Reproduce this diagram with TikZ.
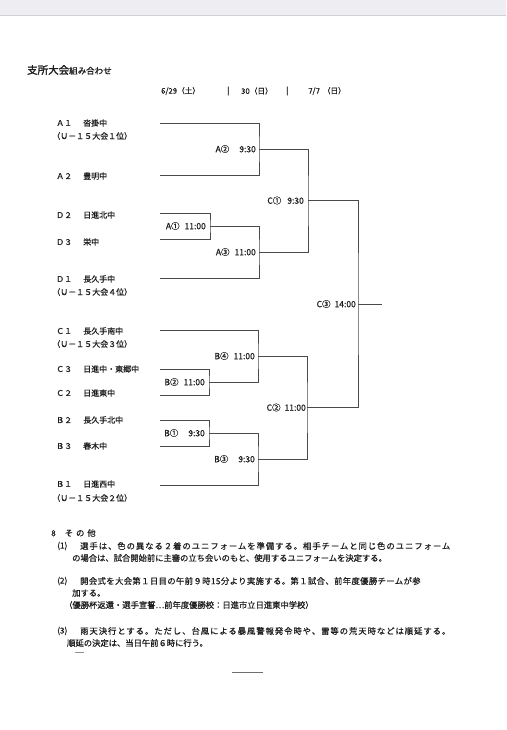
\documentclass[tikz,border=0pt]{standalone}
\usepackage{fontspec}
\newfontfamily\jp{Noto Sans CJK JP}[FakeBold=0.6]
\newfontfamily\jpls{Noto Sans CJK JP}[FakeBold=0.6,LetterSpace=12]
\newfontfamily\jplt{Noto Sans CJK JP}[FakeBold=0.6,LetterSpace=5]
\newfontfamily\jph{Noto Sans CJK JP}[FakeBold=2]
\definecolor{linec}{HTML}{4A4A4A}
\definecolor{txt}{HTML}{1E1E1E}
\definecolor{topbar}{HTML}{EEEEF2}
\begin{document}
\begin{tikzpicture}[x=1pt,y=-1pt,
  br/.style={draw=linec, line width=0.85pt},
  tm/.style={font=\jp\fontsize{8}{8}\selectfont, text=txt, inner sep=0pt, anchor=west},
  ml/.style={font=\jp\fontsize{8.5}{9}\selectfont, text=txt, inner sep=0pt, anchor=east},
  bt/.style={font=\jp\fontsize{8.3}{9}\selectfont, text=txt, inner sep=0pt, anchor=west}]
\useasboundingbox (0,0) rectangle (506,730);
\fill[white] (0,0) rectangle (506,730);
\fill[topbar] (0,0) rectangle (506,15);
\draw[black!18] (0,15) -- (506,15);

% title and header
\node[tm] (title) at (27,70) {{\jph\fontsize{10.5}{11}\selectfont 支所大会}{\fontsize{8.5}{9}\selectfont 組み合わせ}};
\node[tm, font=\jp\fontsize{7.7}{8}\selectfont] (d1) at (161,91) {6/29（土）};
\node[tm, font=\jp\fontsize{7.7}{8}\selectfont] (s1) at (227,91) {|};
\node[tm, font=\jp\fontsize{7.7}{8}\selectfont] (d2) at (241,91) {30（日）};
\node[tm, font=\jp\fontsize{7.7}{8}\selectfont] (s2) at (286,91) {|};
\node[tm, font=\jp\fontsize{7.7}{8}\selectfont] (d3) at (308,91) {7/7\hspace{3pt}（日）};

% team labels
\node[tm] (cA1) at (56,123) {Ａ１}; \node[tm] (nA1) at (83,123) {沓掛中};
\node[tm] (uA1) at (52,136) {（Ｕ－１５大会１位）};
\node[tm] (cA2) at (56,176) {Ａ２}; \node[tm] (nA2) at (83,176) {豊明中};
\node[tm] (cD2) at (56,215) {Ｄ２}; \node[tm] (nD2) at (83,215) {日進北中};
\node[tm] (cD3) at (56,242) {Ｄ３}; \node[tm] (nD3) at (83,242) {栄中};
\node[tm] (cD1) at (56,279) {Ｄ１}; \node[tm] (nD1) at (83,279) {長久手中};
\node[tm] (uD1) at (52,292) {（Ｕ－１５大会４位）};
\node[tm] (cC1) at (56,331) {Ｃ１}; \node[tm] (nC1) at (83,331) {長久手南中};
\node[tm] (uC1) at (52,344) {（Ｕ－１５大会３位）};
\node[tm] (cC3) at (56,369) {Ｃ３}; \node[tm] (nC3) at (83,369) {日進中・東郷中};
\node[tm] (cC2) at (56,393) {Ｃ２}; \node[tm] (nC2) at (83,393) {日進東中};
\node[tm] (cB2) at (56,420) {Ｂ２}; \node[tm] (nB2) at (83,420) {長久手北中};
\node[tm] (cB3) at (56,446) {Ｂ３}; \node[tm] (nB3) at (83,446) {春木中};
\node[tm] (cB1) at (56,484) {Ｂ１}; \node[tm] (nB1) at (83,484) {日進西中};
\node[tm] (uB1) at (52,498) {（Ｕ－１５大会２位）};

% bracket coordinates
\coordinate (sA1) at (160,123);
\coordinate (sA2) at (160,175);
\coordinate (sD2) at (160,213);
\coordinate (sD3) at (160,239);
\coordinate (sD1) at (160,278);
\coordinate (sC1) at (160,330);
\coordinate (sC3) at (160,369);
\coordinate (sC2) at (160,395);
\coordinate (sB2) at (160,420);
\coordinate (sB3) at (160,446);
\coordinate (sB1) at (160,485);

\coordinate (mA1) at (210,226);
\coordinate (mA2) at (259,149);
\coordinate (mA3) at (259,252);
\coordinate (mC1) at (308,200.5);
\coordinate (mB2) at (209,382);
\coordinate (mB4) at (258,356);
\coordinate (mB1) at (209,433);
\coordinate (mB3) at (258,459);
\coordinate (mC2) at (307,407.5);
\coordinate (mC3) at (358,304);
\coordinate (fin) at (382,304);

% bracket lines
\draw[br] (sA1) -| (mA2) |- (sA2);
\draw[br] (sD2) -| (mA1) |- (sD3);
\draw[br] (mA1) -| (mA3) |- (sD1);
\draw[br] (mA2) -| (mC1) |- (mA3);
\draw[br] (sC3) -| (mB2) |- (sC2);
\draw[br] (sC1) -| (mB4) |- (mB2);
\draw[br] (sB2) -| (mB1) |- (sB3);
\draw[br] (mB1) -| (mB3) |- (sB1);
\draw[br] (mB4) -| (mC2) |- (mB3);
\draw[br] (mC1) -| (mC3) |- (mC2);
\draw[br] (mC3) -- (fin);

% match labels
\node[ml] (lA1) at ([xshift=-4pt]mA1) {A①\hspace{5pt}11:00};
\node[ml] (lA2) at ([xshift=-3pt]mA2) {A②\hspace{10pt}9:30};
\node[ml] (lA3) at ([xshift=-3pt]mA3) {A③\hspace{5pt}11:00};
\node[ml] (lC1) at ([xshift=-4pt]mC1) {C①\hspace{6pt}9:30};
\node[ml] (lB2) at ([xshift=-4pt]mB2) {B②\hspace{5pt}11:00};
\node[ml] (lB4) at ([xshift=-3pt]mB4) {B④\hspace{5pt}11:00};
\node[ml] (lB1) at ([xshift=-4pt]mB1) {B①\hspace{10pt}9:30};
\node[ml] (lB3) at ([xshift=-3pt]mB3) {B③\hspace{10pt}9:30};
\node[ml] (lC2) at ([xshift=-1pt]mC2) {C②\hspace{4pt}11:00};
\node[ml] (lC3) at ([xshift=-2pt]mC3) {C③\hspace{4pt}14:00};

% notes
\node[bt] (n8) at (51,533) {8\hspace{9pt}そ\hspace{3pt}の\hspace{3pt}他};
\node[bt] (p1) at (57,546) {(1)};
\node[bt, font=\jpls\fontsize{8.3}{9}\selectfont] (t1a) at (80,546) {選手は、色の異なる２着のユニフォームを準備する。相手チームと同じ色のユニフォーム};
\node[bt] (t1b) at (72,558) {の場合は、試合開始前に主審の立ち会いのもと、使用するユニフォームを決定する。};
\node[bt] (p2) at (57,581) {(2)};
\node[bt, font=\jplt\fontsize{8.3}{9}\selectfont] (t2a) at (80,581) {開会式を大会第１日目の午前９時15分より実施する。第１試合、前年度優勝チームが参};
\node[bt] (t2b) at (72,593) {加する。};
\node[bt] (t2c) at (64,605) {（優勝杯返還・選手宣誓…前年度優勝校：日進市立日進東中学校）};
\node[bt] (p3) at (57,631) {(3)};
\node[bt, font=\jpls\fontsize{8.3}{9}\selectfont] (t3a) at (80,631) {雨天決行とする。ただし、台風による暴風警報発令時や、雷等の荒天時などは順延する。};
\node[bt] (t3b) at (67,643) {順延の決定は、当日午前６時に行う。};
\coordinate (m1) at (75,652);
\coordinate (m2) at (84,652);
\draw[linec!60, line width=0.5pt] (m1) -- (m2);
\coordinate (b1) at (232,672);
\coordinate (b2) at (263,672);
\draw[linec!80, line width=0.7pt] (b1) -- (b2);
\end{tikzpicture}
\end{document}
